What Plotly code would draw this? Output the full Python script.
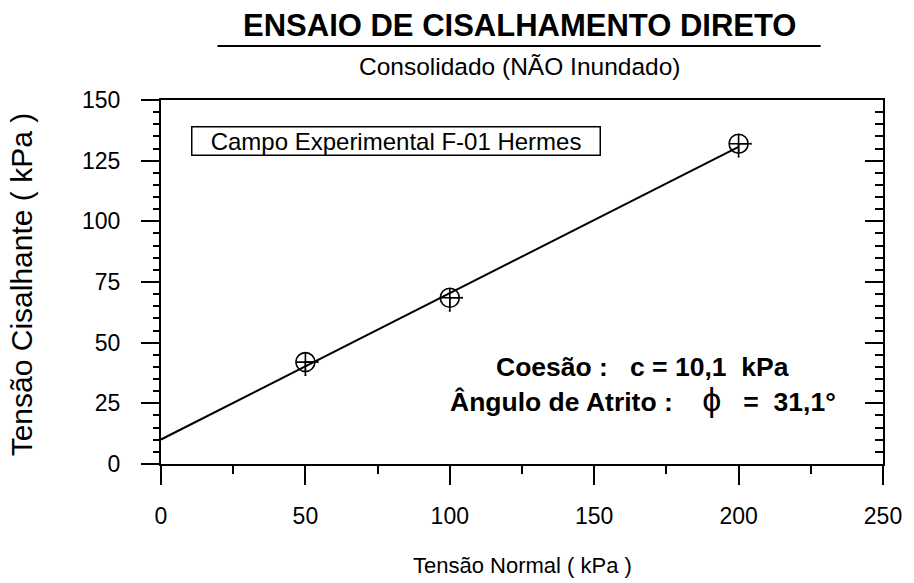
import plotly.graph_objects as go

# ---- data ----
normal_stress = [50, 100, 200]          # kPa
shear_stress = [42.0, 68.5, 132.0]      # kPa
fit_x = [0, 200]
fit_y = [10.1, 130.7]
x_ticks = [0, 50, 100, 150, 200, 250]
y_ticks = [0, 25, 50, 75, 100, 125, 150]

title_txt = "ENSAIO DE CISALHAMENTO DIRETO"
subtitle_txt = "Consolidado (NÃO Inundado)"
box_txt = "Campo Experimental F-01 Hermes"
x_title = "Tensão Normal ( kPa )"
y_title = "Tensão Cisalhante ( kPa )"

FONT = "Arial, Liberation Sans, sans-serif"
NB = "\u00a0"
THIN = "\u2009"

L, R, T, B = 161, 24, 100, 119
W, H = 914, 583
PW, PH = W - L - R, H - T - B


def px(xp):
    return (xp - L) / PW


def py(yp):
    return (H - B - yp) / PH


fig = go.Figure()

fig.add_trace(go.Scatter(x=fit_x, y=fit_y, mode="lines",
                         line=dict(color="black", width=2), showlegend=False,
                         hoverinfo="skip"))
fig.add_trace(go.Scatter(
    x=normal_stress, y=shear_stress, mode="markers",
    marker=dict(symbol="circle-cross-open", size=19, color="black",
                line=dict(width=1.6, color="black")),
    error_x=dict(type="constant", symmetric=False, value=4.3, valueminus=0,
                 color="black", thickness=1.5, width=1),
    error_y=dict(type="constant", symmetric=False, value=0, valueminus=5.4,
                 color="black", thickness=1.5, width=1),
    showlegend=False))
# carrier for the right-hand (inner-tick) axis
fig.add_trace(go.Scatter(x=[None], y=[None], yaxis="y2", mode="markers",
                         showlegend=False, hoverinfo="skip"))

fig.update_layout(
    width=W, height=H, autosize=False,
    margin=dict(l=L, r=R, t=T, b=B),
    paper_bgcolor="white", plot_bgcolor="white",
    font=dict(family=FONT, color="black"),
    xaxis=dict(range=[0, 250], tickvals=x_ticks, ticks="outside", ticklen=19,
               tickwidth=2, tickcolor="black", showline=True, linewidth=2,
               linecolor="black", mirror=True, showgrid=False, zeroline=False,
               tickfont=dict(size=23), ticklabelstandoff=11,
               minor=dict(dtick=25, tick0=0, ticks="outside", ticklen=8,
                          tickwidth=2, tickcolor="black", showgrid=False)),
    yaxis=dict(range=[0, 150], tickvals=y_ticks, ticks="outside", ticklen=18,
               tickwidth=2, tickcolor="black", showline=True, linewidth=2,
               linecolor="black", mirror=True, showgrid=False, zeroline=False,
               tickfont=dict(size=23), ticklabelstandoff=16,
               minor=dict(dtick=5, tick0=0, ticks="outside", ticklen=6,
                          tickwidth=2, tickcolor="black", showgrid=False)),
    yaxis2=dict(range=[0, 150], overlaying="y", side="right", tickvals=y_ticks,
                ticks="inside", ticklen=18, tickwidth=2, tickcolor="black",
                showticklabels=False, showline=False, showgrid=False,
                zeroline=False,
                minor=dict(dtick=5, tick0=0, ticks="inside", ticklen=8,
                           tickwidth=2, tickcolor="black", showgrid=False)),
)

ann = []
ann.append(dict(text=f"<b>{title_txt}</b>", x=px(523), y=py(25), xref="paper",
                yref="paper", showarrow=False, font=dict(size=31),
                xanchor="center", yanchor="middle"))
ann.append(dict(text=subtitle_txt, x=px(523), y=py(66), xref="paper",
                yref="paper", showarrow=False, font=dict(size=24.5),
                xanchor="center", yanchor="middle"))
ann.append(dict(text=NB * 2 + THIN + box_txt + THIN + NB * 2, x=px(191),
                y=py(126), xref="paper", yref="paper", showarrow=False,
                font=dict(size=24), xanchor="left", yanchor="top",
                bordercolor="black", borderwidth=1.5, borderpad=0,
                bgcolor="white"))
ann.append(dict(text=x_title, x=0.5, y=py(565), xref="paper", yref="paper",
                showarrow=False, font=dict(size=22), xanchor="center",
                yanchor="middle"))
ann.append(dict(text=y_title, x=px(20), y=py(284), xref="paper", yref="paper",
                showarrow=False, font=dict(size=30), textangle=-90,
                xanchor="center", yanchor="middle"))
ann.append(dict(text=f"<b>Coesão :{NB*3}c = 10,1{NB*2}kPa</b>", x=px(647),
                y=py(367), xref="paper", yref="paper", showarrow=False,
                font=dict(size=26.5), xanchor="center", yanchor="middle"))
ann.append(dict(text=f"<b>Ângulo de Atrito :</b>{NB*4}"
                     f"<span style='font-size:34px'>ϕ</span>{NB*3}"
                     f"<b>={NB*2}31,1°</b>",
                x=px(648), y=py(399), xref="paper", yref="paper",
                showarrow=False, font=dict(size=26.5), xanchor="center",
                yanchor="middle"))
fig.update_layout(annotations=ann)

fig.add_shape(type="line", xref="paper", yref="paper", x0=px(218), x1=px(827),
              y0=py(46), y1=py(46), line=dict(color="black", width=2))

fig.write_html("out.html", config={"displayModeBar": False},
               post_script="document.body.style.margin='0';"
                           "document.body.style.padding='0';")
